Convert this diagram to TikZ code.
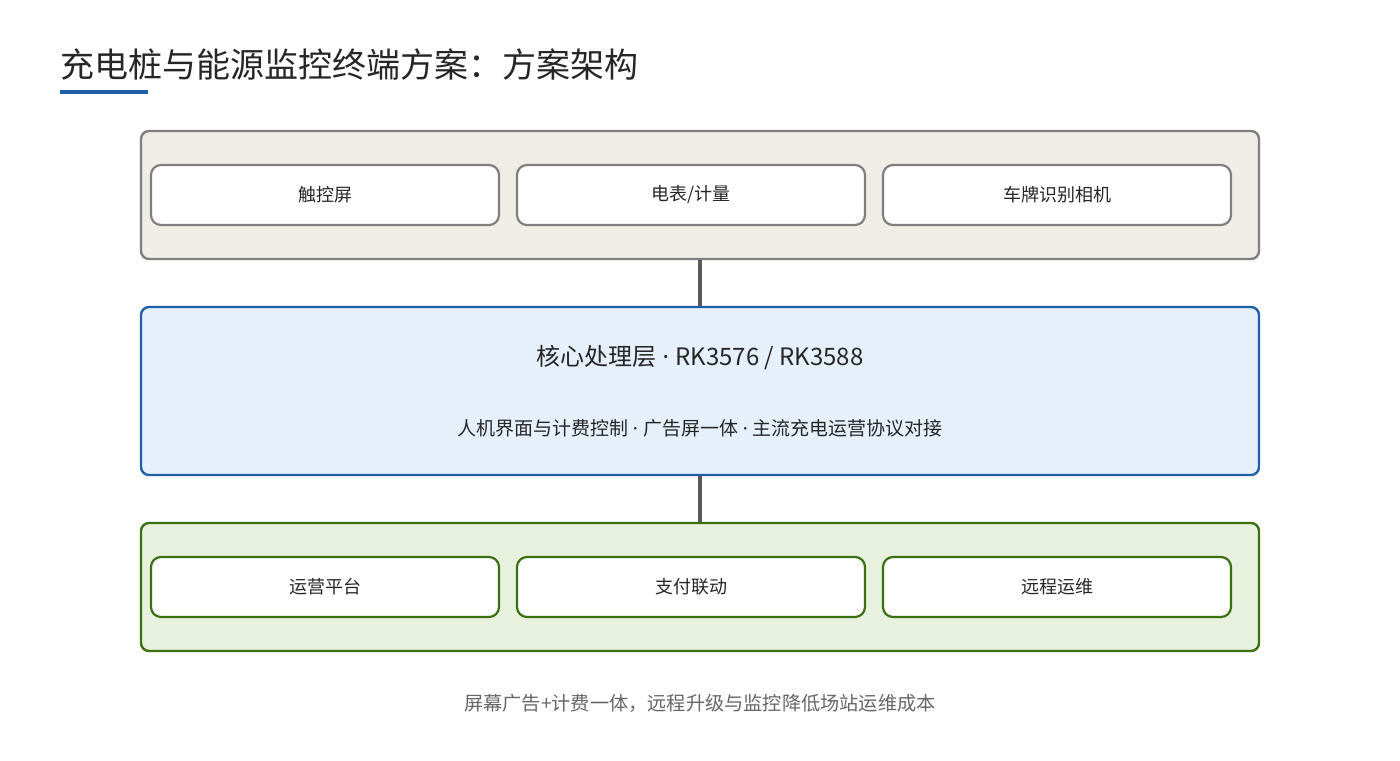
\documentclass[tikz,border=0pt]{standalone}
\usepackage{fontspec}
\setmainfont{Noto Sans CJK SC}
\newfontfamily\latf{Noto Sans}
\newcommand{\mdot}{{\latf\ ·\ }}
\begin{document}
\begin{tikzpicture}[x=0.5pt,y=-0.5pt,
 outer/.style={draw, line width=1.2pt, rounded corners=4pt},
 inner/.style={draw=gray!70!black!80, fill=white, line width=1.1pt, rounded corners=5pt, minimum width=174pt, minimum height=30pt, font=\fontsize{9pt}{11pt}\selectfont, text=black!85},
 conn/.style={draw=black!65, line width=1.6pt}]
\definecolor{topfill}{HTML}{F0EDE6}
\definecolor{midfill}{HTML}{E6F0FA}
\definecolor{botfill}{HTML}{E8F1DE}
\definecolor{blueb}{HTML}{1F5FA8}
\definecolor{greenb}{HTML}{3A7010}
\definecolor{grayb}{HTML}{7F7F7F}
\useasboundingbox (0,0) rectangle (1400,760);
\node[anchor=west, inner sep=0pt, font=\fontsize{17pt}{19pt}\selectfont, text=black!85] (title) at (60,65) {充电桩与能源监控终端方案：方案架构};
\fill[blueb] (60,90) rectangle (148,94);
\node[outer, draw=grayb, fill=topfill, minimum width=559pt, minimum height=64pt] (top) at (700,195) {};
\node[inner, draw=grayb] (t1) at (325,195) {触控屏};
\node[inner, draw=grayb] (t2) at (691,195) {电表/计量};
\node[inner, draw=grayb] (t3) at (1057,195) {车牌识别相机};
\node[outer, draw=blueb, fill=midfill, minimum width=559pt, minimum height=84pt] (mid) at (700,391) {};
\node[font=\fontsize{12pt}{14pt}\selectfont, text=black!85] (mt) at (700,358) {核心处理层\mdot RK3576 / RK3588};
\node[font=\fontsize{9.5pt}{11pt}\selectfont, text=black!85] (ms) at (700,428) {人机界面与计费控制\mdot 广告屏一体\mdot 主流充电运营协议对接};
\node[outer, draw=greenb, fill=botfill, minimum width=559pt, minimum height=64pt] (bot) at (700,587) {};
\node[inner, draw=greenb] (b1) at (325,587) {运营平台};
\node[inner, draw=greenb] (b2) at (691,587) {支付联动};
\node[inner, draw=greenb] (b3) at (1057,587) {远程运维};
\draw[conn] (top.south) -- (mid.north);
\draw[conn] (mid.south) -- (bot.north);
\node[font=\fontsize{9.6pt}{11pt}\selectfont, text=black!60] (foot) at (700,703) {屏幕广告+计费一体，远程升级与监控降低场站运维成本};
\end{tikzpicture}
\end{document}
